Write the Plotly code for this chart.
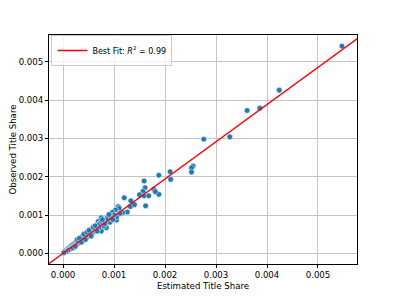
import plotly.graph_objects as go

estimated = [
    0.00547, 0.00424, 0.00386, 0.00361, 0.00327, 0.00276, 0.00255, 0.00252, 0.00252,
    0.00210, 0.00211, 0.00188, 0.00188, 0.00178, 0.00181, 0.00159, 0.00161, 0.00157,
    0.00150, 0.00159, 0.00168, 0.00162, 0.00120, 0.00133, 0.00132, 0.00126, 0.00117,
    0.00108, 0.00110, 0.00103, 0.00097, 0.00105, 0.00105, 0.00100, 0.00093, 0.00086,
    0.00092, 0.00085, 0.00075, 0.00069, 0.00074, 0.00078, 0.00065, 0.00075, 0.00080,
    0.00070, 0.00062, 0.00060, 0.00057, 0.00055, 0.00052, 0.00050, 0.00048, 0.00045,
    0.00043, 0.00041, 0.00039, 0.00037, 0.00035, 0.00033, 0.00031, 0.00029, 0.00027,
    0.00025, 0.00023, 0.00021, 0.00019, 0.00017, 0.00015, 0.00013, 0.00011, 0.00009,
    0.00007, 0.00005, 0.00003, 0.00001,
    0.00062, 0.00066, 0.00058, 0.00054, 0.00047, 0.00044, 0.00040, 0.00036, 0.00032,
    0.00028, 0.00024, 0.00020, 0.00016, 0.00012, 0.00008, 0.00004, 0.00026, 0.00030,
    0.00034, 0.00038, 0.00042, 0.00046, 0.00018, 0.00014, 0.00022, 0.00010, 0.00006,
    0.00002, 0.00070, 0.00072, 0.00083, 0.00088, 0.00095, 0.00082, 0.00068, 0.00064,
    0.00056, 0.00053, 0.00049, 0.00035, 0.00038,
    0.00028, 0.00032, 0.00041, 0.00047, 0.00051, 0.00059, 0.00063, 0.00077, 0.00090,
    0.00019, 0.00024, 0.00036, 0.00044, 0.00055, 0.00067, 0.00098, 0.00112, 0.00140,
]
observed = [
    0.00541, 0.00426, 0.00379, 0.00373, 0.00304, 0.00298, 0.00228, 0.00223, 0.00212,
    0.00213, 0.00193, 0.00204, 0.00154, 0.00167, 0.00161, 0.00189, 0.00171, 0.00162,
    0.00153, 0.00150, 0.00150, 0.00124, 0.00145, 0.00137, 0.00122, 0.00108, 0.00106,
    0.00122, 0.00118, 0.00113, 0.00107, 0.00087, 0.00095, 0.00100, 0.00098, 0.00093,
    0.00081, 0.00067, 0.00093, 0.00083, 0.00080, 0.00076, 0.00069, 0.00058, 0.00071,
    0.00072, 0.00064, 0.00055, 0.00060, 0.00052, 0.00048, 0.00055, 0.00044, 0.00049,
    0.00040, 0.00045, 0.00036, 0.00041, 0.00032, 0.00037, 0.00029, 0.00033, 0.00025,
    0.00029, 0.00021, 0.00025, 0.00017, 0.00020, 0.00013, 0.00016, 0.00010, 0.00012,
    0.00006, 0.00007, 0.00003, 0.00001,
    0.00058, 0.00062, 0.00063, 0.00057, 0.00050, 0.00046, 0.00042, 0.00039, 0.00034,
    0.00030, 0.00026, 0.00022, 0.00018, 0.00013, 0.00009, 0.00005, 0.00022, 0.00026,
    0.00030, 0.00033, 0.00037, 0.00041, 0.00015, 0.00011, 0.00019, 0.00008, 0.00004,
    0.00002, 0.00066, 0.00078, 0.00085, 0.00090, 0.00091, 0.00077, 0.00074, 0.00070,
    0.00048, 0.00061, 0.00053, 0.00040, 0.00044,
    0.00036, 0.00039, 0.00050, 0.00055, 0.00060, 0.00068, 0.00072, 0.00088, 0.00101,
    0.00014, 0.00018, 0.00029, 0.00036, 0.00045, 0.00058, 0.00088, 0.00104, 0.00127,
]

fit_slope = 0.971
fit_intercept = 0.0
fit_r2 = 0.99

x_range = [-0.000275, 0.005765]
y_range = [-0.000279, 0.0057]

x_ticks = [0.000, 0.001, 0.002, 0.003, 0.004, 0.005]
y_ticks = [0.000, 0.001, 0.002, 0.003, 0.004, 0.005]
tick_labels = ["0.000", "0.001", "0.002", "0.003", "0.004", "0.005"]

line_x = [x_range[0] - 0.0002, x_range[1] + 0.0002]
line_y = [fit_slope * v + fit_intercept for v in line_x]

FONT = "DejaVu Sans"

fig = go.Figure()
fig.add_trace(go.Scatter(
    x=estimated, y=observed, mode="markers", showlegend=False,
    marker=dict(color="#1f77b4", size=5.6, line=dict(color="white", width=0.5)),
))
fig.add_trace(go.Scatter(
    x=line_x, y=line_y, mode="lines",
    name=f"Best Fit: <i>R</i><sup>2</sup> = {fit_r2:.2f}",
    line=dict(color="red", width=1.4),
))

axis_common = dict(
    showline=True, linecolor="black", linewidth=1, mirror=True,
    ticks="outside", ticklen=3, tickwidth=1, tickcolor="black",
    showgrid=True, gridcolor="#c4c4c4", gridwidth=1,
    zeroline=False, tickfont=dict(family=FONT, size=8.6, color="black"),
    automargin=False,
)

fig.update_xaxes(
    range=x_range, tickvals=x_ticks, ticktext=tick_labels,
    title=dict(text="Estimated Title Share", font=dict(family=FONT, size=8.6, color="black"), standoff=3),
    **axis_common,
)
fig.update_yaxes(
    range=y_range, tickvals=y_ticks, ticktext=tick_labels,
    title=dict(text="Observed Title Share", font=dict(family=FONT, size=8.6, color="black"), standoff=1),
    **axis_common,
)

# page body has an 8px default margin; figure is sized so the plot lands where the reference has it
fig.update_layout(
    width=388, height=289,
    margin=dict(l=41, r=39, t=27, b=33),
    paper_bgcolor="white", plot_bgcolor="white",
    font=dict(family=FONT, size=8.6, color="black"),
    legend=dict(
        x=0.008, y=1.0, xanchor="left", yanchor="top",
        bgcolor="rgba(255,255,255,0.8)", bordercolor="#cccccc", borderwidth=1,
        font=dict(family=FONT, size=8.0, color="black"),
        itemwidth=30, tracegroupgap=0,
    ),
)

fig.write_html("out.html")
